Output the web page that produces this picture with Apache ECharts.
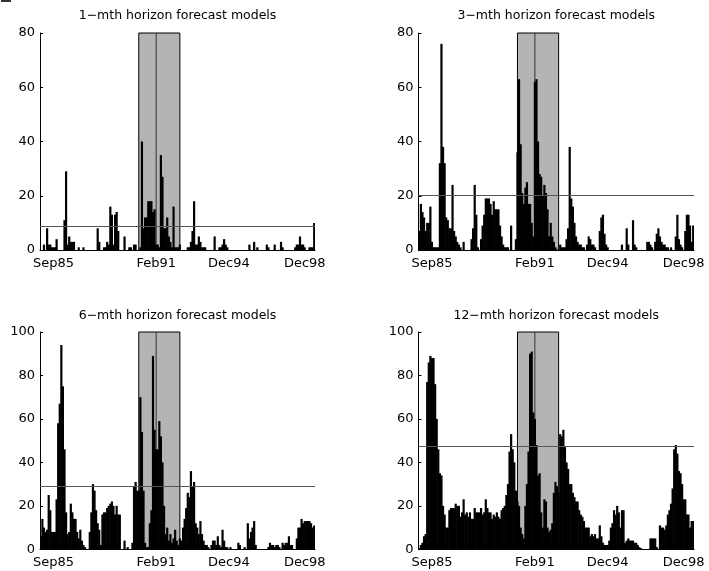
<!DOCTYPE html>
<html><head><meta charset="utf-8">
<script src="https://cdn.jsdelivr.net/npm/echarts@6/dist/echarts.min.js"></script>
<style>html,body{margin:0;padding:0;background:#fff}#c{width:709px;height:571px}</style>
</head><body><div id="c"></div>
<script>
// Monthly categories Jan85 .. Jun99
const monthNames = ['Jan','Feb','Mar','Apr','May','Jun','Jul','Aug','Sep','Oct','Nov','Dec'];
const months = [];
for (let k = 0; k < 174; k++) {
  const yy = (85 + Math.floor(k / 12)) % 100;
  months.push(monthNames[k % 12] + String(yy).padStart(2, '0'));
}
const tickLabels = ['Sep85', 'Feb91', 'Dec94', 'Dec98'];
const titles = ['1\u2212mth horizon forecast models', '3\u2212mth horizon forecast models',
                '6\u2212mth horizon forecast models', '12\u2212mth horizon forecast models'];
const shadeStart = 'Mar90';
const shadeEnd = 'May92';
const markMonth = 'Feb91';
const yMax = [80, 80, 100, 100];
const thresholds = [8.8, 20.3, 29, 47.5];

const h1 = [
 0,0,2,0,8,2,2,1,1,1,
 4,0,0,0,0,11,29,2,5,3,
 3,3,0,0,1,0,0,1,0,0,
 0,0,0,0,0,0,8,3,0,0,
 1,1,3,2,16,13,2,13,14,7,
 0,0,0,5,0,0,1,1,0,2,
 2,0,0,1,40,8,12,12,18,18,
 18,14,15,2,2,1,35,27,8,8,
 12,5,3,1,16,1,1,1,2,0,
 0,0,0,1,1,3,7,18,2,2,
 5,3,1,1,1,0,0,0,0,0,
 5,0,0,1,1,2,4,2,1,0,
 0,0,0,0,0,0,0,0,0,0,
 0,0,2,0,0,3,0,1,0,0,
 0,0,0,2,1,0,0,0,2,0,
 0,0,3,1,0,0,0,0,0,0,
 0,1,2,2,5,2,2,1,0,0,
 1,1,1,10];
const h3 = [
 7,17,14,12,7,10,10,16,3,1,
 1,1,1,32,76,38,32,12,11,8,
 8,24,7,5,3,2,1,0,3,0,
 0,0,0,4,8,24,13,1,0,4,
 9,13,19,19,19,17,13,18,15,15,
 15,9,5,2,1,1,1,0,9,0,
 0,4,36,63,39,21,17,23,25,17,
 17,10,5,62,63,40,28,27,20,24,
 21,15,5,10,5,3,1,0,0,2,
 1,1,1,4,8,38,19,16,10,5,
 3,2,2,1,1,0,2,5,4,2,
 2,1,0,0,7,12,13,6,2,1,
 0,0,0,0,0,0,0,0,2,0,
 0,8,2,0,0,11,2,1,0,0,
 0,0,0,0,3,3,2,1,0,3,
 6,8,5,3,2,2,1,1,0,1,
 0,0,5,13,4,2,1,0,7,13,
 13,9,3,9];
const h6 = [
 6,14,10,8,9,25,18,8,8,8,
 23,58,67,94,75,46,17,7,8,21,
 17,14,14,8,5,9,4,2,1,0,
 0,8,17,30,27,18,12,9,2,16,
 17,17,19,20,21,22,20,16,20,16,
 16,0,0,4,0,1,0,0,3,29,
 31,27,27,70,54,27,3,1,1,12,
 18,89,55,46,46,59,52,40,20,7,
 10,4,7,3,5,9,4,2,5,4,
 10,14,19,26,24,36,29,31,12,10,
 7,13,7,4,2,2,1,0,2,4,
 4,2,6,2,1,9,4,1,1,0,
 1,0,0,0,0,3,2,0,0,1,
 0,12,5,8,10,13,2,0,0,0,
 0,0,0,0,1,3,2,2,1,2,
 2,1,0,3,2,3,3,6,2,2,
 0,0,5,10,10,14,12,13,13,13,
 13,12,10,11];
const h12 = [
 0.5,2,3,6,7,77,86,89,88,88,
 76,60,46,35,34,20,16,10,10,18,
 19,19,19,21,20,20,15,17,23,16,
 17,15,17,14,14,19,17,17,17,19,
 16,17,23,19,17,17,14,16,15,17,
 15,14,18,19,20,25,30,45,53,46,
 40,27,22,20,10,7,5,20,30,45,
 90,91,63,60,48,34,35,17,10,23,
 22,10,8,9,12,26,31,29,26,53,
 52,55,47,40,37,30,30,26,24,22,
 22,18,16,15,13,10,10,10,6,7,
 6,7,5,5,11,6,3,2,2,2,
 4,10,12,18,16,20,17,10,18,18,
 3,4,5,4,4,4,3,3,2,1,
 0.5,0,0,0,0,0,5,5,5,5,
 1,0,11,10,10,9,11,16,18,21,
 28,46,48,44,36,35,30,23,23,16,
 16,10,13,13];
const seriesValues = [h1, h3, h6, h12];

const grids = [
  {left: 40, top: 33, width: 275, height: 217},
  {left: 418.5, top: 33, width: 275.5, height: 217},
  {left: 40, top: 332, width: 275, height: 217.3},
  {left: 418.5, top: 332, width: 275.5, height: 217.3}
];
const titleTops = [9, 9, 308.5, 308.5];
const FONT = 'DejaVu Sans';
const iStart = months.indexOf(shadeStart);
const iEnd = months.indexOf(shadeEnd);
const iMark = months.indexOf(markMonth);

function renderShade(params, api) {
  const lb = api.coord([api.value(0), 0]);
  const rt = api.coord([api.value(1), api.value(2)]);
  const m = api.coord([api.value(3), 0]);
  return {
    type: 'group',
    children: [
      {type: 'rect', shape: {x: lb[0], y: rt[1], width: rt[0] - lb[0], height: lb[1] - rt[1]},
       style: {fill: '#b4b4b4', stroke: '#000', lineWidth: 1}},
      {type: 'line', shape: {x1: m[0], y1: lb[1], x2: m[0], y2: rt[1]},
       style: {stroke: '#333', lineWidth: 1}}
    ]
  };
}

const series = [];
seriesValues.forEach((vals, p) => {
  series.push({
    type: 'custom', xAxisIndex: p, yAxisIndex: p, z: 1, silent: true, clip: false,
    renderItem: renderShade,
    encode: {x: [0, 1, 3], y: 2},
    data: [[iStart, iEnd, yMax[p], iMark]]
  });
  series.push({
    type: 'bar', xAxisIndex: p, yAxisIndex: p, z: 2,
    data: vals,
    barWidth: 2.2,
    itemStyle: {color: '#000'},
    silent: true,
    markLine: {
      silent: true, symbol: 'none', label: {show: false},
      lineStyle: {color: '#555', width: 1, type: 'solid'},
      data: [{yAxis: thresholds[p]}]
    }
  });
});

const option = {
  animation: false,
  backgroundColor: '#fff',
  graphic: [{type: 'rect', left: 1, top: 0, shape: {width: 10, height: 2}, style: {fill: '#333'}, silent: true}],
  title: titles.map((t, p) => ({
    text: t,
    left: grids[p].left + grids[p].width / 2,
    top: titleTops[p],
    padding: 0,
    textAlign: 'center',
    textStyle: {fontFamily: FONT, fontSize: 12.5, fontWeight: 'normal', color: '#000', lineHeight: 14}
  })),
  grid: grids.map(g => Object.assign({containLabel: false}, g)),
  xAxis: grids.map((g, p) => ({
    type: 'category', gridIndex: p, data: months, boundaryGap: true,
    axisLine: {show: true, lineStyle: {color: '#000', width: 1}},
    axisTick: {show: false},
    axisLabel: {
      interval: (idx, val) => tickLabels.includes(val),
      color: '#000', fontFamily: FONT, fontSize: 13, margin: 7
    },
    splitLine: {show: false}
  })),
  yAxis: grids.map((g, p) => ({
    type: 'value', gridIndex: p, min: 0, max: yMax[p], interval: 20,
    axisLine: {show: true, lineStyle: {color: '#000', width: 1}},
    axisTick: {show: true, inside: true, length: 3, lineStyle: {color: '#000'}},
    axisLabel: {color: '#000', fontFamily: FONT, fontSize: 13, margin: 5},
    splitLine: {show: false}
  })),
  series: series
};
echarts.init(document.getElementById('c'), null, {renderer: 'canvas'}).setOption(option);
</script>
</body></html>
